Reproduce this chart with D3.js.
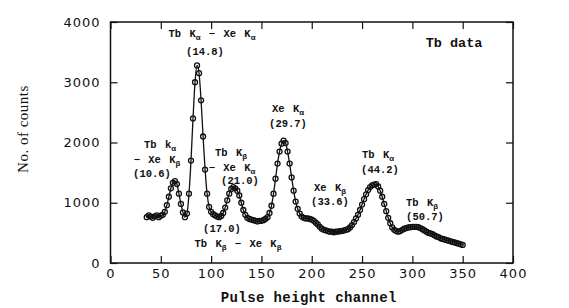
<!DOCTYPE html>
<html>
<head>
<meta charset="utf-8">
<script src="https://cdn.jsdelivr.net/npm/d3@7"></script>
<style>
  body { margin: 0; background: #fff; }
  #chart { width: 569px; height: 308px; }
  .tick text { font-family: "DejaVu Sans", sans-serif; font-size: 13px; letter-spacing: 1px; fill: #111; }
  .lbl { font-family: "Liberation Mono", monospace; font-weight: bold; font-size: 10.5px; fill: #111; word-spacing: 2px; }
</style>
</head>
<body>
<div id="chart"></div>
<script>
// canales del espectro (cada 2 canales)
const channels = [
  36, 38, 40, 42, 44, 46, 48, 50, 52, 54, 56, 58, 60, 62, 64, 66, 68, 70, 72, 74,
  76, 78, 80, 82, 84, 86, 88, 90, 92, 94, 96, 98, 100, 102, 104, 106, 108, 110, 112, 114,
  116, 118, 120, 122, 124, 126, 128, 130, 132, 134, 136, 138, 140, 142, 144, 146, 148, 150, 152, 154,
  156, 158, 160, 162, 164, 166, 168, 170, 172, 174, 176, 178, 180, 182, 184, 186, 188, 190, 192, 194,
  196, 198, 200, 202, 204, 206, 208, 210, 212, 214, 216, 218, 220, 222, 224, 226, 228, 230, 232, 234,
  236, 238, 240, 242, 244, 246, 248, 250, 252, 254, 256, 258, 260, 262, 264, 266, 268, 270, 272, 274,
  276, 278, 280, 282, 284, 286, 288, 290, 292, 294, 296, 298, 300, 302, 304, 306, 308, 310, 312, 314,
  316, 318, 320, 322, 324, 326, 328, 330, 332, 334, 336, 338, 340, 342, 344, 346, 348, 350
];
// cuentas
const counts = [
  760, 790, 770, 750, 775, 790, 760, 785, 800, 850, 960, 1100, 1240, 1330, 1360, 1310, 1150, 980, 840, 760,
  820, 1150, 1700, 2400, 3000, 3280, 3150, 2700, 2100, 1550, 1150, 930, 850, 810, 790, 770, 760, 780, 830, 920,
  1040, 1150, 1230, 1260, 1240, 1200, 1120, 1000, 880, 800, 750, 730, 720, 710, 700, 690, 700, 700, 710, 730,
  760, 830, 950, 1150, 1400, 1650, 1850, 1980, 2030, 1990, 1850, 1650, 1420, 1200, 1020, 900, 820, 770, 750, 740,
  740, 730, 720, 700, 670, 640, 600, 570, 550, 540, 530, 520, 520, 510, 520, 520, 530, 530, 540, 550,
  560, 590, 630, 680, 740, 800, 880, 970, 1060, 1140, 1210, 1260, 1290, 1300, 1310, 1270, 1200, 1100, 980, 860,
  750, 660, 590, 550, 530, 520, 530, 550, 570, 580, 590, 595, 600, 600, 600, 595, 580, 560, 540, 520,
  500, 490, 480, 460, 440, 430, 410, 400, 390, 380, 370, 360, 350, 340, 330, 320, 310, 300
];
const xTicks = [0, 50, 100, 150, 200, 250, 300, 350, 400];
const yTicks = [0, 1000, 2000, 3000, 4000];

// anotaciones: texto y subindice
const notes = [
  { x: 212, y: 37, parts: [["Tb K", "α"], ["− Xe K", "α"]] },
  { x: 205, y: 55, parts: [["(14.8)", ""]] },
  { x: 160, y: 148, parts: [["Tb k", "α"]] },
  { x: 157, y: 163, parts: [["− Xe K", "β"]] },
  { x: 152, y: 177, parts: [["(10.6)", ""]] },
  { x: 231, y: 156, parts: [["Tb K", "β"]] },
  { x: 232, y: 171, parts: [["− Xe K", "α"]] },
  { x: 240, y: 184, parts: [["(21.0)", ""]] },
  { x: 222, y: 232, parts: [["(17.0)", ""]] },
  { x: 238, y: 247, parts: [["Tb K", "β"], ["− Xe K", "β"]] },
  { x: 288, y: 112, parts: [["Xe K", "α"]] },
  { x: 288, y: 127, parts: [["(29.7)", ""]] },
  { x: 330, y: 191, parts: [["Xe K", "β"]] },
  { x: 330, y: 205, parts: [["(33.6)", ""]] },
  { x: 378, y: 158, parts: [["Tb K", "α"]] },
  { x: 380, y: 173, parts: [["(44.2)", ""]] },
  { x: 422, y: 206, parts: [["Tb K", "β"]] },
  { x: 425, y: 220, parts: [["(50.7)", ""]] }
];

const data = channels.map((c, i) => ({ ch: c, n: counts[i] }));

const margins = { top: 22, right: 56, bottom: 45, left: 110.5 };
const totalWidth = 569;
const totalHeight = 308;
const w = totalWidth - margins.left - margins.right;
const h = totalHeight - margins.top - margins.bottom;

const svg = d3.select("#chart").append("svg")
  .attr("width", totalWidth).attr("height", totalHeight)
  .append("g")
  .attr("transform", `translate(${margins.left}, ${margins.top})`);

const x = d3.scaleLinear().domain([0, 400]).range([0, w]);
const y = d3.scaleLinear().domain([0, 4000]).range([h, 0]);
const fmt = d3.format("d");

// ejes con marcas hacia adentro
svg.append("g").attr("transform", `translate(0,${h})`)
  .call(d3.axisBottom(x).tickValues(xTicks).tickFormat(fmt).tickSizeInner(-7).tickSizeOuter(0).tickPadding(6))
  .call(g => g.select(".domain").remove());
svg.append("g")
  .call(d3.axisTop(x).tickValues(xTicks).tickSizeInner(-7).tickSizeOuter(0).tickFormat(""))
  .call(g => g.select(".domain").remove());
svg.append("g")
  .call(d3.axisLeft(y).tickValues(yTicks).tickFormat(fmt).tickSizeInner(-7).tickSizeOuter(0).tickPadding(10))
  .call(g => g.select(".domain").remove());
svg.append("g").attr("transform", `translate(${w},0)`)
  .call(d3.axisRight(y).tickValues(yTicks).tickSizeInner(-7).tickSizeOuter(0).tickFormat(""))
  .call(g => g.select(".domain").remove());
svg.selectAll(".tick line").attr("stroke", "#111").attr("stroke-width", 1.2);

svg.append("rect").attr("width", w).attr("height", h)
  .attr("fill", "none").attr("stroke", "#111").attr("stroke-width", 1.5);

// curva y puntos
svg.append("path").datum(data)
  .attr("fill", "none").attr("stroke", "#111").attr("stroke-width", 1.3)
  .attr("d", d3.line().x(d => x(d.ch)).y(d => y(d.n)).curve(d3.curveMonotoneX));

svg.selectAll("circle").data(data).enter().append("circle")
  .attr("cx", d => x(d.ch)).attr("cy", d => y(d.n)).attr("r", 2.5)
  .attr("fill", "none").attr("stroke", "#111").attr("stroke-width", 1.3);

// titulos de ejes
svg.append("text")
  .attr("x", w / 2 - 3).attr("y", h + 39)
  .attr("text-anchor", "middle")
  .style("font-family", "Liberation Mono, monospace").style("font-weight", "bold")
  .style("font-size", "14px").style("letter-spacing", "0.4px").attr("fill", "#111")
  .text("Pulse height channel");

svg.append("text")
  .attr("transform", `translate(${25 - margins.left}, ${129 - margins.top}) rotate(-90)`)
  .attr("text-anchor", "middle").attr("dominant-baseline", "middle")
  .style("font-family", "Liberation Serif, serif").style("font-size", "15px")
  .style("letter-spacing", "0.5px").attr("fill", "#111")
  .text("No. of counts");

svg.append("text")
  .attr("x", 454 - margins.left).attr("y", 47 - margins.top)
  .attr("text-anchor", "middle")
  .style("font-family", "Liberation Mono, monospace").style("font-weight", "bold")
  .style("font-size", "13.5px").attr("fill", "#111")
  .text("Tb data");

// etiquetas de picos
notes.forEach(nt => {
  const t = svg.append("text").attr("class", "lbl")
    .attr("x", nt.x - margins.left).attr("y", nt.y - margins.top)
    .attr("text-anchor", "middle");
  let shifted = false;
  nt.parts.forEach(([main, sub], i) => {
    t.append("tspan").attr("dy", shifted ? -3 : 0).text((i > 0 ? " " : "") + main);
    shifted = false;
    if (sub) {
      t.append("tspan").attr("dy", 3).style("font-size", "8px").text(sub);
      shifted = true;
    }
  });
});
</script>
</body>
</html>
